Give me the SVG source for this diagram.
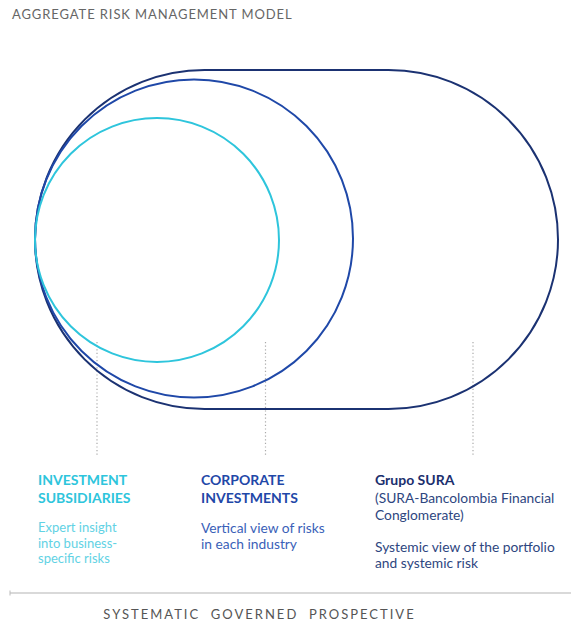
<svg xmlns="http://www.w3.org/2000/svg" width="571" height="624" viewBox="0 0 571 624">
<style>
text{font-family:Lato,"Noto Sans","Liberation Sans",sans-serif}
.title{font-size:13px;fill:#666;letter-spacing:0.9px}
.hd{font-size:14px;font-weight:bold}
.bd{font-size:13.8px}
.sm{font-size:13px}
.dot{stroke:#aaa;stroke-width:1.2;stroke-dasharray:1.2 2.4;fill:none}
.ring{fill:none;stroke-width:2}
</style>
<rect width="571" height="624" fill="#fff"/>
<text class="title" x="12" y="19">AGGREGATE RISK MANAGEMENT MODEL</text>
<g id="connectors">
<line class="dot" x1="97" y1="342" x2="97" y2="456"/>
<line class="dot" x1="265.5" y1="342" x2="265.5" y2="456"/>
<line class="dot" x1="473" y1="342" x2="473" y2="456"/>
</g>
<g id="grupo-sura">
<rect class="ring" x="35" y="70" width="523" height="339" rx="169.5" stroke="#1b3272"/>
<text class="hd" x="375" y="485" fill="#1b2f6e">Grupo SURA</text>
<text class="bd" x="375" y="503" fill="#2e4680">(SURA-Bancolombia Financial</text>
<text class="bd" x="375" y="520" fill="#2e4680">Conglomerate)</text>
<text class="bd" x="375" y="552" fill="#2e4680">Systemic view of the portfolio</text>
<text class="bd" x="375" y="568" fill="#2e4680">and systemic risk</text>
</g>
<g id="corporate-investments">
<circle class="ring" cx="194" cy="238.5" r="159" stroke="#1f48a8"/>
<text class="hd" x="201" y="485" fill="#1f48a8">CORPORATE</text>
<text class="hd" x="201" y="503" fill="#1f48a8">INVESTMENTS</text>
<text class="bd" x="201" y="533" fill="#3a5fb8">Vertical view of risks</text>
<text class="bd" x="201" y="549" fill="#3a5fb8">in each industry</text>
</g>
<g id="investment-subsidiaries">
<circle class="ring" cx="157" cy="240" r="122" stroke="#2ec5dc"/>
<text class="hd" x="38" y="485" fill="#2ec5dc">INVESTMENT</text>
<text class="hd" x="38" y="503" fill="#2ec5dc">SUBSIDIARIES</text>
<text class="sm" x="38" y="532" fill="#62d2e4">Expert insight</text>
<text class="sm" x="38" y="547.5" fill="#62d2e4">into business-</text>
<text class="sm" x="38" y="563" fill="#62d2e4">specific risks</text>
</g>
<g id="footer">
<line x1="10" y1="593" x2="571" y2="593" stroke="#ccc" stroke-width="1.5"/>
<line x1="10" y1="590.5" x2="10" y2="595.5" stroke="#bbb" stroke-width="1"/>
<text x="259.5" y="619" text-anchor="middle" font-size="13" fill="#555" letter-spacing="2" xml:space="preserve">SYSTEMATIC  GOVERNED  PROSPECTIVE</text>
</g>
</svg>
